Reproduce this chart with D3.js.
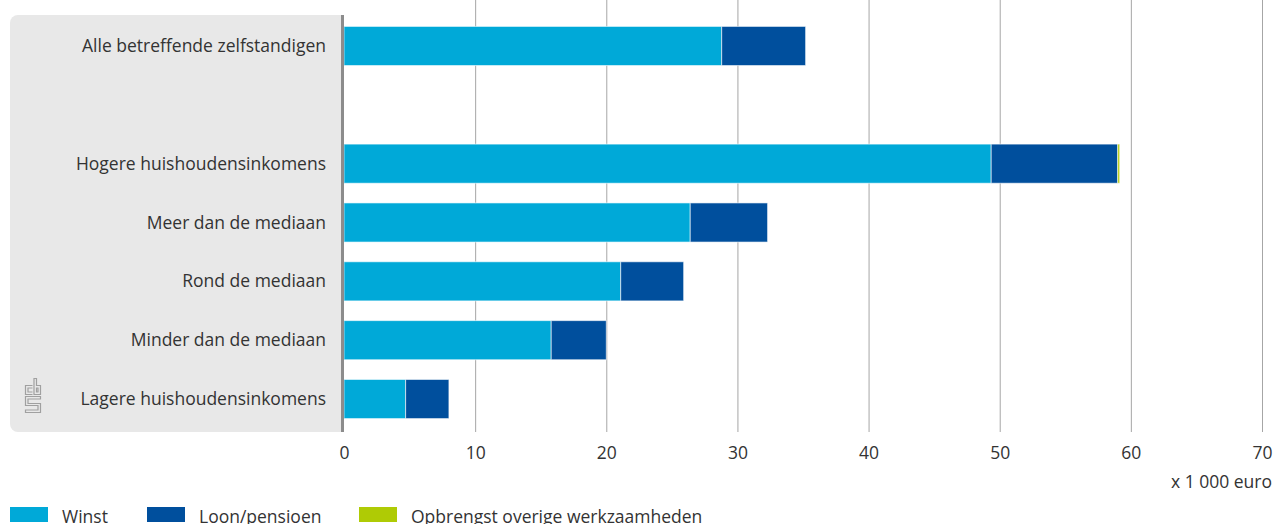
<!DOCTYPE html>
<html><head><meta charset="utf-8">
<script src="https://cdn.jsdelivr.net/npm/d3@7"></script>
<style>body{margin:0;background:#fff;}svg{display:block;font-family:"Open Sans",sans-serif;}</style>
</head><body><svg id="c" width="1274" height="524"></svg>
<script>
const categories = ["Alle betreffende zelfstandigen", "", "Hogere huishoudensinkomens", "Meer dan de mediaan", "Rond de mediaan", "Minder dan de mediaan", "Lagere huishoudensinkomens"];
const winst = [28.8, null, 49.35, 26.4, 21.1, 15.8, 4.7];
const loon = [6.4, null, 9.65, 5.9, 4.8, 4.2, 3.3];
const overig = [0, null, 0.15, 0, 0, 0, 0];
const seriesNames = ["Winst", "Loon/pensioen", "Opbrengst overige werkzaamheden"];
const colors = ["#00a9d8", "#004f9d", "#afcb05"];
const ticks = [0, 10, 20, 30, 40, 50, 60, 70];

const FS = 17.5;
const svg = d3.select("#c");
const x = d3.scaleLinear().domain([0, 70]).range([344, 1262]);
const y = d3.scaleBand().domain(d3.range(categories.length)).range([17, 428]).paddingInner(0.335).paddingOuter(0.16);

// panel
svg.append("rect").attr("x", 10).attr("y", 15).attr("width", 340).attr("height", 417).attr("rx", 8).attr("fill", "#e8e8e8");
svg.append("rect").attr("x", 330).attr("y", 15).attr("width", 20).attr("height", 417).attr("fill", "#e8e8e8");
svg.append("rect").attr("x", 344).attr("y", 0).attr("width", 10).attr("height", 432).attr("fill", "#fff");

// grid
svg.append("g").selectAll("line").data(ticks.filter(t => t > 0)).join("line")
  .attr("x1", d => x(d) + 0.5).attr("x2", d => x(d) + 0.5).attr("y1", 0).attr("y2", 432)
  .attr("stroke", "#a6a6a6").attr("stroke-width", 1);

// bars
const stackData = categories.map((c, i) => ({i, vals: [winst[i], loon[i], overig[i]]})).filter(d => d.vals[0] != null);
stackData.forEach(d => {
  let acc = 0;
  d.vals.forEach((v, k) => {
    if (v > 0) {
      svg.append("rect").attr("x", x(acc)).attr("y", y(d.i)).attr("width", x(acc + v) - x(acc)).attr("height", y.bandwidth())
        .attr("fill", colors[k]).attr("stroke", "#fff").attr("stroke-opacity", 0.6).attr("stroke-width", 1);
    }
    acc += v;
  });
});

// axis line
svg.append("rect").attr("x", 341).attr("y", 15).attr("width", 3).attr("height", 417).attr("fill", "#8c8c8c");

// category labels
svg.append("g").selectAll("text").data(categories).join("text")
  .attr("x", 326).attr("y", (d, i) => y(i) + y.bandwidth() / 2).attr("dy", "0.35em")
  .attr("text-anchor", "end").attr("font-size", FS).attr("fill", "#333").text(d => d);

// x axis
const xa = svg.append("g").attr("transform", "translate(0,441)").call(d3.axisBottom(x).tickValues(ticks).tickSize(0).tickPadding(6));
xa.select(".domain").remove();
xa.selectAll("text").attr("font-size", FS).attr("fill", "#333").attr("font-family", "Open Sans, sans-serif");
svg.append("text").attr("x", 1272).attr("y", 488).attr("text-anchor", "end").attr("font-size", FS).attr("fill", "#333").text("x 1 000 euro");

// legend
const lx = [10, 147, 359];
seriesNames.forEach((s, k) => {
  svg.append("rect").attr("x", lx[k]).attr("y", 507).attr("width", 38).attr("height", 15).attr("fill", colors[k]);
  svg.append("text").attr("x", lx[k] + 52).attr("y", 523).attr("font-size", FS).attr("fill", "#333").text(s);
});

// cbs logo
const lg = svg.append("g").attr("transform", "translate(25.5,378.5)").attr("fill", "none").attr("stroke", "#a0a0a0").attr("stroke-width", 1.2);
lg.append("path").attr("d", "M7,7 H0 V16 H7 M7,9.5 H2.5 V13.5 H7");
lg.append("path").attr("d", "M8.5,0 V16 H15 V7 H11 V0 Z M11,9.5 H12.5 V13.5 H11 Z");
lg.append("path").attr("d", "M15,18 H0 V27 H12.5 V31.5 H0 V34 H15 V25 H2.5 V20.5 H15 Z");
</script></body></html>
